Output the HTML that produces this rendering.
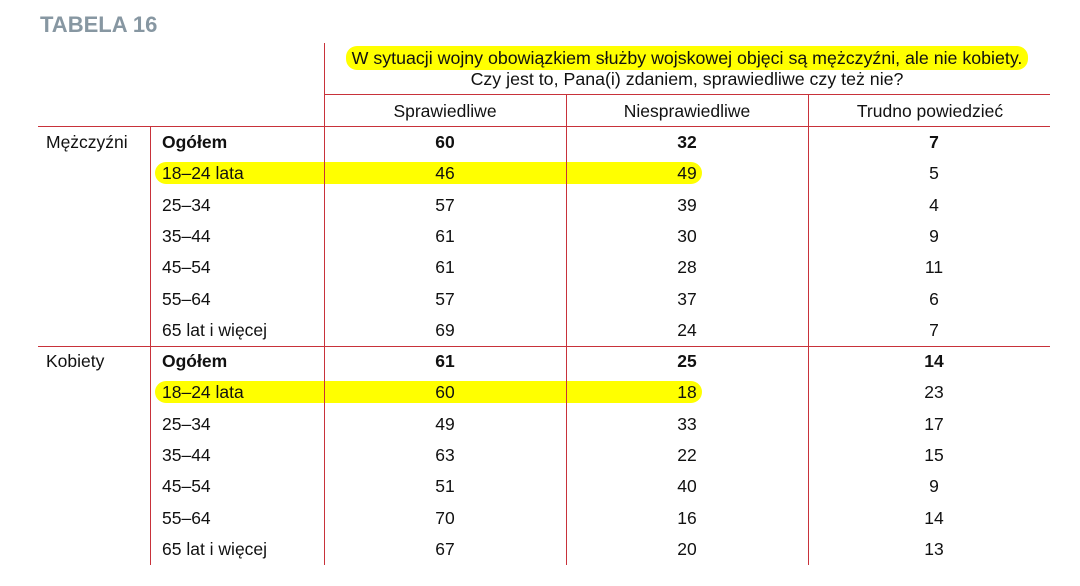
<!DOCTYPE html>
<html><head><meta charset="utf-8"><style>
body{margin:0;width:1080px;height:586px;background:#fff;position:relative;overflow:hidden;font-family:"Liberation Sans",sans-serif;color:#111}
.a{position:absolute}
.h{background:#c8323a;height:1px}
.v{background:#c8323a;width:1px}
.t{position:absolute;font-size:17.5px;line-height:20px;white-space:nowrap}
.c{transform:translateX(-50%)}
.b{font-weight:bold}
.hl{position:absolute;background:#ffff00;border-radius:11px}
</style></head><body>
<div class="t b" style="left:40px;top:12px;font-size:22px;line-height:26px;color:#8797a2">TABELA 16</div>
<div class="hl" style="left:346px;top:46px;width:682px;height:24px"></div>
<div class="hl" style="left:155px;top:162px;width:547px;height:22px"></div>
<div class="hl" style="left:155px;top:381px;width:547px;height:22px"></div>
<div class="t c" style="left:687px;top:48px;font-size:17.8px">W sytuacji wojny obowiązkiem służby wojskowej objęci są mężczyźni, ale nie kobiety.</div>
<div class="t c" style="left:687px;top:69px;font-size:17.8px">Czy jest to, Pana(i) zdaniem, sprawiedliwe czy też nie?</div>
<div class="a v" style="left:324px;top:43px;height:522px"></div>
<div class="a v" style="left:566px;top:95px;height:470px"></div>
<div class="a v" style="left:808px;top:95px;height:470px"></div>
<div class="a v" style="left:150px;top:126px;height:439px"></div>
<div class="a h" style="left:324px;top:94px;width:726px"></div>
<div class="a h" style="left:38px;top:126px;width:1012px"></div>
<div class="a h" style="left:38px;top:346px;width:1012px"></div>
<div class="t c" style="left:445px;top:101px">Sprawiedliwe</div>
<div class="t c" style="left:687px;top:101px">Niesprawiedliwe</div>
<div class="t c" style="left:930px;top:101px">Trudno powiedzieć</div>
<div class="t" style="left:46px;top:132px">Mężczyźni</div>
<div class="t" style="left:46px;top:351px">Kobiety</div>
<div id="rows"></div>
<script>
var d=[["Ogółem",60,32,7,1],["18–24 lata",46,49,5],["25–34",57,39,4],["35–44",61,30,9],["45–54",61,28,11],["55–64",57,37,6],["65 lat i więcej",69,24,7],
["Ogółem",61,25,14,1],["18–24 lata",60,18,23],["25–34",49,33,17],["35–44",63,22,15],["45–54",51,40,9],["55–64",70,16,14],["65 lat i więcej",67,20,13]];
var h="";d.forEach(function(r,i){var y=132+i*31.3,b=r[4]?" b":"";
h+='<div class="t'+b+'" style="left:162px;top:'+y+'px">'+r[0]+'</div>';
h+='<div class="t c'+b+'" style="left:445px;top:'+y+'px">'+r[1]+'</div>';
h+='<div class="t c'+b+'" style="left:687px;top:'+y+'px">'+r[2]+'</div>';
h+='<div class="t c'+b+'" style="left:934px;top:'+y+'px">'+r[3]+'</div>';});
document.getElementById("rows").innerHTML=h;
</script>
</body></html>
